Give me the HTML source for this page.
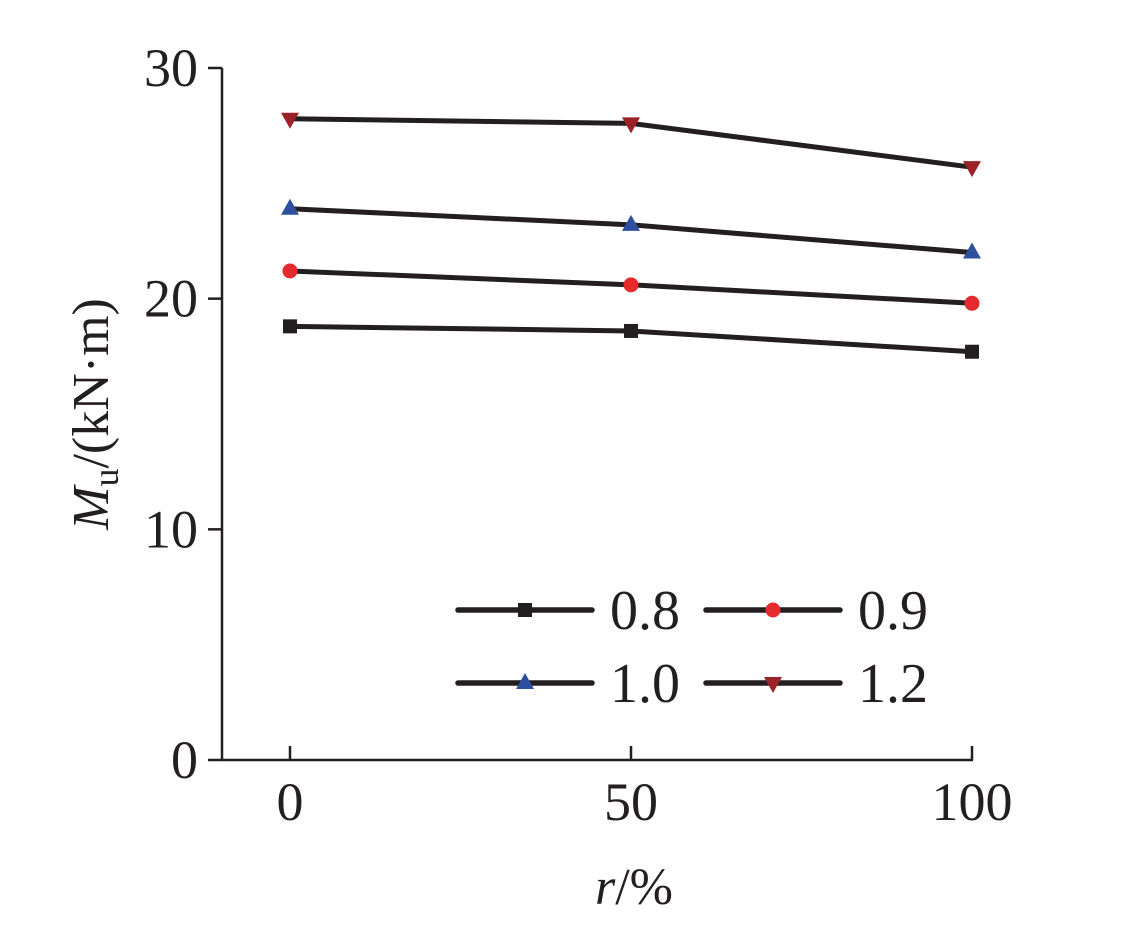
<!DOCTYPE html>
<html><head><meta charset="utf-8"><style>
body{margin:0;background:#fff}
svg text{font-family:"Liberation Serif","Times New Roman",serif;fill:#231f20}
</style></head><body>
<svg width="1133" height="929" viewBox="0 0 1133 929" xmlns="http://www.w3.org/2000/svg" font-family="Liberation Serif, serif">
<g id="axes"></g>
<g id="series"></g>
<g id="legend"></g>
<text x="108" y="414" font-size="52" text-anchor="middle" transform="rotate(-90 108 414)"><tspan font-style="italic">M</tspan><tspan font-size="36" dy="10">u</tspan><tspan dy="-10">/(kN·m)</tspan></text>
<text x="634" y="904" font-size="52" text-anchor="middle"><tspan font-style="italic">r</tspan>/%</text>
</svg>
<script>
const categories=[0,50,100];
const seriesNames=["0.8","0.9","1.0","1.2"];
const s08=[18.8,18.6,17.7];
const s09=[21.2,20.6,19.8];
const s10=[23.9,23.2,22.0];
const s12=[27.8,27.6,25.7];
const yTicks=[0,10,20,30];
const xTicks=[0,50,100];
const NS="http://www.w3.org/2000/svg";
const X=v=>290+(v-0)*(972-290)/100;
const Y=v=>760-v*(760-68)/30;
function mk(t,a,p){const e=document.createElementNS(NS,t);for(const k in a)e.setAttribute(k,a[k]);p.appendChild(e);return e;}
const ax=document.getElementById('axes');
let l=mk('line',{x1:222,y1:68,x2:222,y2:760,stroke:'#231f20','stroke-width':2.5},ax);


l=mk('line',{x1:221,y1:760,x2:973,y2:760,stroke:'#231f20','stroke-width':2.5},ax);


yTicks.forEach(v=>{
 const t=mk('line',{x1:208,y1:Y(v),x2:222,y2:Y(v),stroke:'#231f20','stroke-width':2.5},ax);
 
 
 const tx=mk('text',{x:198,y:Y(v)+18,'font-size':54,'text-anchor':'end'},ax);tx.textContent=v;
 
 
});
xTicks.forEach(v=>{
 const t=mk('line',{x1:X(v),y1:746,x2:X(v),y2:760,stroke:'#231f20','stroke-width':2.5},ax);
 
 
 const tx=mk('text',{x:X(v),y:820,'font-size':54,'text-anchor':'middle'},ax);tx.textContent=v;
 
 
});
function marker(kind,x,y,p){
 let e;
 if(kind==0)e=mk('rect',{x:x-7,y:y-7,width:14,height:14,fill:'#231f20'},p);
 else if(kind==1)e=mk('circle',{cx:x,cy:y,r:7.5,fill:'#e52a2e'},p);
 else if(kind==2)e=mk('polygon',{points:`${x},${y-10} ${x-9},${y+6} ${x+9},${y+6}`,fill:'#2d4fa0'},p);
 else e=mk('polygon',{points:`${x},${y+10} ${x-9},${y-6} ${x+9},${y-6}`,fill:'#9b2226'},p);
 return e;
}
const all=[s08,s09,s10,s12];
const sg=document.getElementById('series');
all.forEach((d,i)=>{
 const pl=mk('polyline',{points:d.map((v,j)=>X(categories[j])+','+Y(v)).join(' '),fill:'none',stroke:'#231f20','stroke-width':5,'stroke-linejoin':'round'},sg);
 
 
 d.forEach((v,j)=>{const m=marker(i,X(categories[j]),Y(v),sg);
  
  });
});
const lg=document.getElementById('legend');
const pos=[[458,610],[706,610],[458,683],[706,683]];
seriesNames.forEach((n,i)=>{
 const [x,y]=pos[i];
 const ln=mk('line',{x1:x,y1:y,x2:x+134,y2:y,stroke:'#231f20','stroke-width':5.5,'stroke-linecap':'round'},lg);
 
 
 const m=marker(i,x+67,y,lg);
 
 
 const t=mk('text',{x:x+152,y:y+19,'font-size':56},lg);t.textContent=n;
 
 
});
</script>
</body></html>
